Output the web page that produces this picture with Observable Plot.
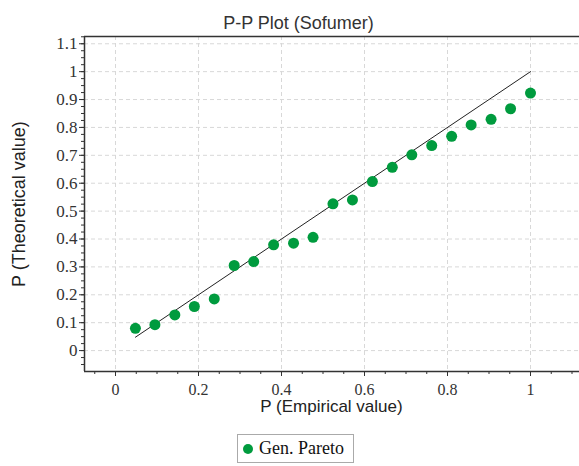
<!DOCTYPE html>
<html><head><meta charset="utf-8">
<script src="https://cdn.jsdelivr.net/npm/d3@7"></script>
<script src="https://cdn.jsdelivr.net/npm/@observablehq/plot@0.6"></script>
<style>
body{margin:0;background:#fff;}
#wrap{position:relative;width:579px;height:466px;overflow:hidden;}
#wrap svg{display:block;max-width:none;}
.legend{position:absolute;left:237px;top:434px;width:117px;height:29px;border:1px solid #aaa;box-sizing:border-box;font-family:"Liberation Serif",serif;font-size:18px;color:#111;display:flex;align-items:center;white-space:nowrap;}
.legend .sw{display:inline-block;width:10px;height:10px;border-radius:50%;margin-left:5px;margin-right:6px;}
</style>
</head><body><div id="wrap"></div>
<script>
const title = "P-P Plot (Sofumer)";
const xLabel = "P (Empirical value)";
const yLabel = "P (Theoretical value)";
const seriesName = "Gen. Pareto";
const pointColor = "#009B3E";

const empirical   = [0.048,0.095,0.143,0.190,0.238,0.286,0.333,0.381,0.429,0.476,0.524,0.571,0.619,0.667,0.714,0.762,0.810,0.857,0.905,0.952,1.000];
const theoretical = [0.080,0.093,0.128,0.158,0.185,0.305,0.319,0.379,0.385,0.406,0.526,0.540,0.606,0.657,0.702,0.735,0.768,0.809,0.829,0.867,0.923];

const refX = [0.048, 1];
const refY = [0.048, 1];

const xTicks = [0, 0.2, 0.4, 0.6, 0.8, 1];
const yTicks = [0, 0.1, 0.2, 0.3, 0.4, 0.5, 0.6, 0.7, 0.8, 0.9, 1, 1.1];
const xMinor = [-0.05,0.05,0.1,0.15,0.25,0.3,0.35,0.45,0.5,0.55,0.65,0.7,0.75,0.85,0.9,0.95,1.05,1.1];
const yMinor = d3.range(-2, 46).map(i => Math.round(i * 25) / 1000);

const xDomain = [-0.0747, 1.1253];
const yDomain = [-0.075, 1.126];

const points = empirical.map((x, i) => ({x, y: theoretical[i]}));
const ref = refX.map((x, i) => ({x, y: refY[i]}));
const fmt = d3.format("~g");
const serif = "Liberation Serif";
const sans = "Liberation Sans";

const chart = Plot.plot({
  width: 582,
  height: 430,
  marginLeft: 84,
  marginRight: 0,
  marginTop: 36,
  marginBottom: 59,
  style: {background: "#fff", overflow: "visible"},
  x: {domain: xDomain},
  y: {domain: yDomain},
  marks: [
    Plot.gridX(xTicks, {stroke: "#d8d8d8", strokeOpacity: 1, strokeDasharray: "4,3"}),
    Plot.gridY(yTicks, {stroke: "#d8d8d8", strokeOpacity: 1, strokeDasharray: "4,3"}),
    Plot.axisX(xMinor, {tickSize: 3, tickFormat: () => "", label: null, stroke: "#333"}),
    Plot.axisY(yMinor, {tickSize: 3, tickFormat: () => "", label: null, stroke: "#333"}),
    Plot.axisX(xTicks, {tickSize: 5, tickPadding: 7, tickFormat: fmt, label: null, fontFamily: serif, fontSize: 16, fill: "#333", stroke: "#333"}),
    Plot.axisY(yTicks, {tickSize: 5, tickPadding: 2, tickFormat: fmt, label: null, fontFamily: serif, fontSize: 17, fill: "#333", stroke: "#333"}),
    Plot.ruleY([yDomain[1]], {stroke: "#333", strokeWidth: 1.5}),
    Plot.ruleY([yDomain[0]], {stroke: "#333", strokeWidth: 1.5}),
    Plot.ruleX([xDomain[0]], {stroke: "#333", strokeWidth: 1.5}),
    Plot.line(ref, {x: "x", y: "y", stroke: "#222", strokeWidth: 1}),
    Plot.dot(points, {x: "x", y: "y", r: 5.5, fill: pointColor, stroke: "none"}),
    Plot.text([title], {frameAnchor: "top", dy: -20, dx: -35, fontFamily: sans, fontSize: 18, fill: "#333"}),
    Plot.text([xLabel], {frameAnchor: "bottom", dy: 40, dx: -2, fontFamily: sans, fontSize: 17, fill: "#222"}),
    Plot.text([yLabel], {frameAnchor: "left", textAnchor: "middle", dx: -65, rotate: -90, fontFamily: sans, fontSize: 18, fill: "#222"})
  ]
});
const wrap = document.getElementById("wrap");
wrap.appendChild(chart);
const leg = document.createElement("div");
leg.className = "legend";
leg.innerHTML = `<span class="sw" style="background:${pointColor}"></span><span>${seriesName}</span>`;
wrap.appendChild(leg);
</script>
</body></html>
